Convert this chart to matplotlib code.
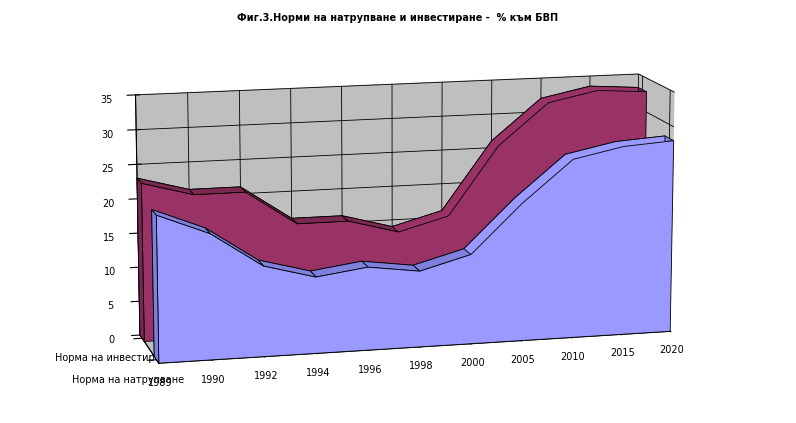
import matplotlib.pyplot as plt
import numpy as np
from mpl_toolkits.mplot3d.art3d import Poly3DCollection

# ---------- Data ----------
years = ["1989", "1990", "1992", "1994", "1996", "1998", "2000", "2005", "2010", "2015", "2020"]
savings = [21, 18, 13, 11, 12, 11, 13, 20, 26, 27.5, 28]      # Норма на натрупване
investment = [23, 21, 21, 16, 16, 14, 16, 26, 32, 33.5, 33]   # Норма на инвестиране
series_names = ["Норма на натрупване", "Норма на инвестиране"]

fig = plt.figure(figsize=(7.96, 4.23), dpi=100)
fig.suptitle("Фиг.3.Норми на натрупване и инвестиране -  % към БВП",
             fontsize=7, fontweight="bold", y=0.97)
ax = fig.add_axes([-0.06, -0.2, 1.12, 1.35], projection="3d")


def slab(vals, y0, y1, face, side):
    x = np.arange(len(vals))
    polys, cols = [], []
    back = [(x[0], y1, 0)] + [(xi, y1, v) for xi, v in zip(x, vals)] + [(x[-1], y1, 0)]
    polys.append(back); cols.append(face)
    for i in range(len(x) - 1):
        polys.append([(x[i], y0, vals[i]), (x[i + 1], y0, vals[i + 1]),
                      (x[i + 1], y1, vals[i + 1]), (x[i], y1, vals[i])])
        cols.append(side)
    polys.append([(x[0], y0, 0), (x[0], y0, vals[0]), (x[0], y1, vals[0]), (x[0], y1, 0)])
    cols.append(side)
    front = [(x[0], y0, 0)] + [(xi, y0, v) for xi, v in zip(x, vals)] + [(x[-1], y0, 0)]
    polys.append(front); cols.append(face)
    pc = Poly3DCollection(polys, facecolors=cols, edgecolors="black", linewidths=0.6)
    ax.add_collection3d(pc)


slab(investment, 1.3, 1.7, "#993366", "#7a2850")
slab(savings, 0.0, 0.4, "#9999FF", "#7f7fdd")

ax.set_xlim(0, len(years) - 1)
ax.set_ylim(0, 1.7)
ax.set_zlim(0, 35)
ax.set_xticks(np.arange(len(years)))
ax.set_xticklabels(years, fontsize=7)
ax.set_yticks([0.2, 1.5])
ax.set_yticklabels(series_names, fontsize=7)
ax.set_zticks(np.arange(0, 36, 5))
ax.tick_params(axis="z", labelsize=7)
ax.set_box_aspect((3.2, 0.7, 1.5))
ax.view_init(elev=12, azim=-104)

for axis in (ax.xaxis, ax.yaxis, ax.zaxis):
    axis.set_pane_color((0.75, 0.75, 0.75, 1.0))
    axis._axinfo["grid"]["color"] = "black"
    axis._axinfo["grid"]["linewidth"] = 0.6

plt.savefig("out.png", dpi=100)
